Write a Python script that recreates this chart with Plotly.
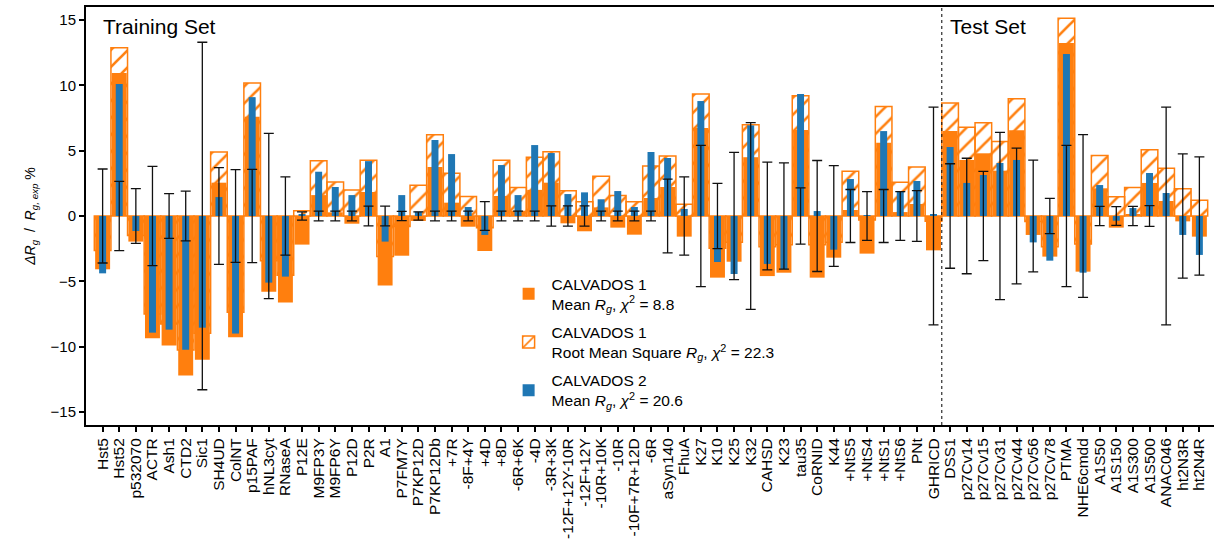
import plotly.graph_objects as go

train = ["Hst5", "Hst52", "p532070", "ACTR", "Ash1", "CTD2", "Sic1", "SH4UD", "ColNT", "p15PAF",
         "hNL3cyt", "RNaseA", "P12E", "M9FP3Y", "M9FP6Y", "P12D", "P2R", "A1", "P7FM7Y", "P7KP12D",
         "P7KP12Db", "+7R", "-8F+4Y", "+4D", "+8D", "-6R+6K", "-4D", "-3R+3K", "-12F+12Y-10R",
         "-12F+12Y", "-10R+10K", "-10R", "-10F+7R+12D", "-6R", "aSyn140", "FhuA", "K27", "K10",
         "K25", "K32", "CAHSD", "K23", "tau35", "CoRNID", "K44", "+NtS5", "+NtS4", "+NtS1",
         "+NtS6", "PNt", "GHRICD"]
test = ["DSS1", "p27Cv14", "p27Cv15", "p27Cv31", "p27Cv44", "p27Cv56", "p27Cv78", "PTMA",
        "NHE6cmdd", "A1S50", "A1S150", "A1S300", "A1S500", "ANAC046", "ht2N3R", "ht2N4R"]
names = train + test

calv1_mean = [-4.08, 10.94, -1.96, -9.36, -9.92, -12.22, -11.0, 2.55, -9.29, 7.6,
              -5.79, -6.63, -2.19, 1.6, 0.28, -0.59, 1.84, -5.33, -3.04, -0.38,
              3.75, 1.02, -0.82, -2.68, 1.53, 0.4, 2.0, 2.55, -0.56,
              -1.17, 0.66, -0.89, -1.43, 1.38, 2.22, -1.58, 6.73, -4.72,
              -3.5, 4.5, -4.6, -4.34, 6.58, -4.72, -3.19, 0.46, -2.88, 5.61,
              0.3, 0.92, -2.63,
              6.5, 4.29, 4.8, 3.47, 6.56, -1.45, -3.11, 13.24,
              -4.26, 2.12, -0.89, 0.1, 2.53, 1.15, -0.41, -1.58]
calv1_rms = [-2.65, 12.88, -1.5, -7.5, -8.27, -10.26, -8.98, 4.9, -7.37, 10.18,
             -3.42, -4.54, 0.41, 4.23, 2.6, 2.0, 4.26, -3.11, -0.8, 2.35,
             6.22, 3.27, 1.5, -0.9, 4.26, 2.19, 4.5, 4.92, 1.94,
             1.1, 3.04, 1.56, 1.1, 3.83, 4.6, 0.89, 9.34, -2.47,
             -2.0, 6.99, -2.35, -2.2, 9.2, -2.2, -2.0, 3.42, -0.3, 8.39,
             2.58, 3.75, -0.4,
             8.65, 6.79, 7.14, 5.71, 8.98, -0.43, -2.35, 15.13,
             -2.14, 4.64, 1.48, 2.19, 5.08, 3.65, 2.09, 1.2]
calv2_mean = [-4.39, 10.1, -1.15, -8.93, -8.7, -10.23, -8.55, 1.45, -9.0, 9.1,
              -5.1, -4.64, 0.15, 3.39, 2.22, 1.6, 4.2, -1.96, 1.6, 0.33,
              5.82, 4.74, 0.69, -1.45, 3.9, 1.6, 5.43, 4.82, 1.68,
              1.81, 1.28, 1.91, 0.69, 4.9, 4.44, 0.54, 8.8, -3.52,
              -4.44, 6.94, -3.67, -4.08, 9.34, 0.38, -2.58, 2.83, 0.05, 6.5,
              1.91, 2.68, 0.13,
              5.28, 2.53, 3.14, 4.06, 4.29, -2.02, -3.42, 12.4,
              -4.34, 2.37, -0.36, 0.61, 3.29, 1.76, -1.45, -2.98]
exp_err = [3.6, 2.65, 2.1, 3.8, 1.72, 1.9, 13.3, 3.7, 3.55, 3.57,
           6.33, 3.0, 0.32, 0.37, 0.37, 0.37, 0.75, 0.75, 0.36, 0.32,
           0.38, 0.38, 0.37, 1.1, 0.37, 0.37, 0.37, 0.77, 0.77,
           0.77, 0.37, 0.37, 0.37, 0.37, 2.83, 3.0, 5.4, 2.5,
           4.87, 7.15, 4.13, 4.07, 2.15, 4.25, 3.85, 2.03, 1.86, 2.03,
           1.86, 1.95, 8.33,
           4.0, 4.42, 3.42, 6.4, 5.2, 4.28, 1.35, 5.4,
           6.23, 0.74, 0.72, 0.74, 0.8, 8.33, 4.76, 4.52]

ORANGE = "#ff7f0e"
BLUE = "#1f77b4"
FONT = "Liberation Sans, Arial, sans-serif"

x = list(range(len(names)))
fig = go.Figure()

fig.add_trace(go.Bar(
    x=x, y=calv1_rms, width=1.0,
    name="CALVADOS 1<br>Root Mean Square <i>R</i><sub><i>g</i></sub>, <i>χ</i><sup>2</sup> = 22.3",
    marker=dict(color=ORANGE, line=dict(color=ORANGE, width=1.5),
                pattern=dict(shape="/", fgcolor=ORANGE, bgcolor="rgba(255,255,255,0)",
                             size=12, solidity=0.22, fillmode="replace")),
    legendrank=2, legendgroup="b",
))
fig.add_trace(go.Bar(
    x=x, y=calv1_mean, width=0.9,
    name="CALVADOS 1<br>Mean <i>R</i><sub><i>g</i></sub>, <i>χ</i><sup>2</sup> = 8.8",
    marker=dict(color=ORANGE, line=dict(width=0)),
    legendrank=1, legendgroup="a",
))
fig.add_trace(go.Bar(
    x=x, y=calv2_mean, width=0.42,
    name="CALVADOS 2<br>Mean <i>R</i><sub><i>g</i></sub>, <i>χ</i><sup>2</sup> = 20.6",
    marker=dict(color=BLUE, line=dict(width=0)),
    legendrank=3, legendgroup="c",
))
fig.add_trace(go.Scatter(
    x=x, y=[0] * len(x), mode="markers",
    marker=dict(size=1, opacity=0),
    error_y=dict(type="data", array=exp_err, visible=True, color="#111111",
                 thickness=1.3, width=5),
    showlegend=False, hoverinfo="skip",
))

split = len(train) - 0.5
fig.add_shape(type="line", xref="x", yref="paper", x0=split, x1=split, y0=0, y1=1,
              line=dict(color="black", width=1, dash="dot"))

fig.add_annotation(text="Training Set", xref="paper", yref="paper", x=0.0135, y=0.986,
                   xanchor="left", yanchor="top", showarrow=False,
                   font=dict(size=21, color="black", family=FONT))
fig.add_annotation(text="Test Set", xref="x", yref="paper", x=split + 0.4, y=0.986,
                   xanchor="left", yanchor="top", showarrow=False,
                   font=dict(size=21, color="black", family=FONT))

fig.update_layout(
    width=1214, height=551,
    margin=dict(l=86, r=0, t=7, b=126),
    barmode="overlay",
    plot_bgcolor="white", paper_bgcolor="white",
    font=dict(family=FONT, size=14, color="black"),
    showlegend=True,
    legend=dict(x=0.372, y=0.378, xanchor="left", yanchor="top",
                bgcolor="rgba(255,255,255,0)", font=dict(size=15.5, family=FONT),
                tracegroupgap=5, itemwidth=36),
)
fig.update_xaxes(
    range=[-1.0, 66.88], tickmode="array", tickvals=x, ticktext=names,
    tickangle=-90, ticks="outside", ticklen=5, tickwidth=1.5, tickcolor="black",
    showline=True, linecolor="black", linewidth=2, mirror=True,
    showgrid=False, zeroline=False, tickfont=dict(size=15.5),
)
fig.update_yaxes(
    range=[-16, 16], tickvals=[-15, -10, -5, 0, 5, 10, 15],
    ticks="outside", ticklen=5, tickwidth=1.5, tickcolor="black",
    showline=True, linecolor="black", linewidth=2, mirror=False,
    showgrid=False, zeroline=False, tickfont=dict(size=15),
    title=dict(text="<i>ΔR<sub>g</sub></i>  /  <i>R<sub>g, exp</sub></i> %",
               font=dict(size=14), standoff=12),
)

fig.write_html("out.html")
